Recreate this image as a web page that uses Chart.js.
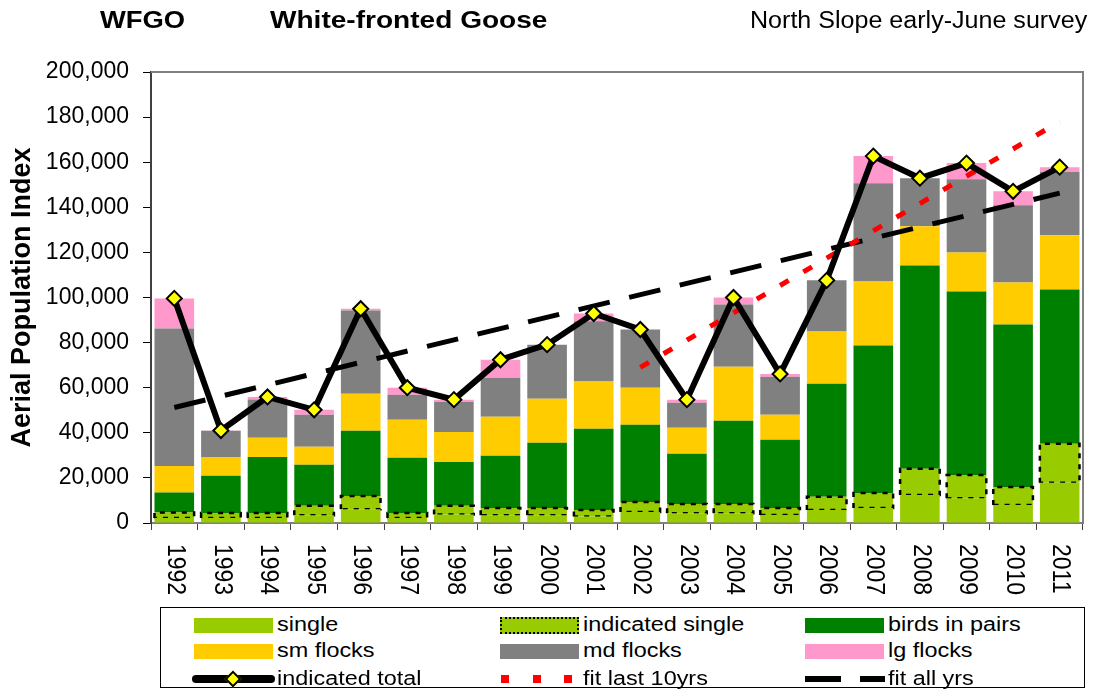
<!DOCTYPE html>
<html>
<head>
<meta charset="utf-8">
<script src="https://cdn.jsdelivr.net/npm/chart.js@4/dist/chart.umd.min.js"></script>
<style>
  html, body { margin: 0; padding: 0; background: #fff; }
  body { width: 1094px; height: 690px; position: relative; overflow: hidden; font-family: "Liberation Sans", Arial, sans-serif; }
  #wrap { position: absolute; left: 0; top: 0; width: 1094px; height: 690px; }
  .ttl { position: absolute; top: 7px; font-size: 23px; line-height: 26px; white-space: nowrap; transform-origin: left center; color: #000; }
  #legend { position: absolute; left: 160px; top: 607px; width: 925px; height: 81px; border: 1px solid #000; box-sizing: border-box; background: #fff; }
  .sw { position: absolute; box-sizing: border-box; }
  .lt { position: absolute; font-size: 20px; line-height: 20px; white-space: nowrap; transform: scaleX(1.17); transform-origin: left center; color: #000; }
</style>
</head>
<body>
<div id="wrap"><canvas id="c" width="1094" height="690"></canvas></div>
<div class="ttl" style="left:100px;font-weight:bold;transform:scaleX(1.19)">WFGO</div>
<div class="ttl" style="left:270px;font-weight:bold;transform:scaleX(1.22)">White-fronted Goose</div>
<div class="ttl" style="left:750px;transform:scaleX(1.09)">North Slope early-June survey</div>
<div id="legend"></div>
<script>
// ---- data ----
const categories = ['1992','1993','1994','1995','1996','1997','1998','1999','2000','2001','2002','2003','2004','2005','2006','2007','2008','2009','2010','2011'];
const single        = [2200,2200,2200,3400,6100,2200,3800,3400,3400,2900,4900,4300,4300,3600,5800,6700,12400,11000,8000,17800];
const indicatedSingle = [2500,2200,2200,4200,5900,2200,3800,3300,3300,2900,4400,4100,4100,3100,5800,6600,11700,10300,8000,17300];
const birdsInPairs  = [8800,16500,24900,18200,28900,24500,19500,23100,28900,36000,34300,22300,36900,30200,50200,65400,90100,81400,72000,68500];
const smFlocks      = [11800,8400,8500,8000,16400,16900,13300,17300,19500,20900,16400,11500,24000,11100,23100,28400,17400,17300,18700,24000];
const mdFlocks      = [60900,11600,17000,14200,36900,11100,13400,17300,24000,26800,25800,11100,27600,16900,22700,43600,21300,32400,34200,28000];
const lgFlocks      = [13400,100,1100,2200,800,3100,900,8000,0,3400,0,1400,3100,1200,0,12000,0,7200,6200,2200];
const indicatedTotal = [99600,41000,55900,50200,95000,60000,54700,72400,79100,92900,85800,54700,100000,66100,107600,162700,152900,159600,147100,157800];
const fitLast10yrs  = [null,null,null,null,null,null,null,null,null,null,69000,null,null,null,null,null,null,null,null,178000];
const fitAllYrs     = [51200,null,null,null,null,null,null,null,null,null,null,null,null,null,null,null,null,null,null,146300];
const yTicks = [0,20000,40000,60000,80000,100000,120000,140000,160000,180000,200000];

const FONT = '"Liberation Sans", Arial, sans-serif';

const barDefaults = { stack: 'bars', order: 3, borderWidth: 0, barPercentage: 0.85, categoryPercentage: 1.0 };

const borderPlugin = {
  id: 'plotBorder',
  beforeDatasetsDraw(chart) {
    const a = chart.chartArea, ctx = chart.ctx;
    ctx.save();
    ctx.strokeStyle = '#808080';
    ctx.lineWidth = 2;
    ctx.beginPath();
    ctx.moveTo(a.left, a.top);
    ctx.lineTo(a.right, a.top);
    ctx.lineTo(a.right, a.bottom);
    ctx.stroke();
    ctx.restore();
  }
};

const dottedPlugin = {
  id: 'dottedIndicated',
  afterDatasetDraw(chart, args) {
    if (args.index !== 1) return;
    const meta = chart.getDatasetMeta(1);
    const ctx = chart.ctx;
    ctx.save();
    ctx.strokeStyle = '#000';
    ctx.lineWidth = 2.5;
    ctx.setLineDash([5, 6]);
    meta.data.forEach(el => {
      const p = el.getProps(['x','y','base','width'], true);
      const l = p.x - p.width / 2, r = p.x + p.width / 2;
      ctx.beginPath();
      ctx.moveTo(l, p.base); ctx.lineTo(l, p.y); ctx.lineTo(r, p.y); ctx.lineTo(r, p.base); ctx.lineTo(l, p.base);
      ctx.stroke();
    });
    ctx.restore();
  }
};

const yearLabelPlugin = {
  id: 'yearLabels',
  afterDraw(chart) {
    const xs = chart.scales.x, ctx = chart.ctx;
    ctx.save();
    ctx.font = '23px ' + FONT;
    ctx.fillStyle = '#000';
    ctx.textAlign = 'left';
    ctx.textBaseline = 'middle';
    categories.forEach((c, i) => {
      const x = xs.getPixelForValue(i);
      ctx.save();
      ctx.translate(x + 1, 544);
      ctx.rotate(Math.PI / 2);
      ctx.scale(1, 1.15);
      ctx.fillText(c, 0, 0);
      ctx.restore();
    });
    ctx.restore();
  }
};

new Chart(document.getElementById('c'), {
  data: {
    labels: categories,
    datasets: [
      Object.assign({ type: 'bar', label: 'single', data: single, backgroundColor: '#99cc00' }, barDefaults),
      Object.assign({ type: 'bar', label: 'indicated single', data: indicatedSingle, backgroundColor: '#99cc00' }, barDefaults),
      Object.assign({ type: 'bar', label: 'birds in pairs', data: birdsInPairs, backgroundColor: '#008000' }, barDefaults),
      Object.assign({ type: 'bar', label: 'sm flocks', data: smFlocks, backgroundColor: '#ffcc00' }, barDefaults),
      Object.assign({ type: 'bar', label: 'md flocks', data: mdFlocks, backgroundColor: '#808080' }, barDefaults),
      Object.assign({ type: 'bar', label: 'lg flocks', data: lgFlocks, backgroundColor: '#ff99cc' }, barDefaults),
      { type: 'line', label: 'fit last 10yrs', data: fitLast10yrs, stack: 'fit10', order: 2, spanGaps: true,
        borderColor: '#ff0000', borderWidth: 5, borderDash: [10, 17], borderCapStyle: 'butt', pointRadius: 0, tension: 0, fill: false },
      { type: 'line', label: 'fit all yrs', data: fitAllYrs, stack: 'fitAll', order: 2, spanGaps: true,
        borderColor: '#000000', borderWidth: 5, borderDash: [32, 20], borderCapStyle: 'butt', pointRadius: 0, tension: 0, fill: false },
      { type: 'line', label: 'indicated total', data: indicatedTotal, stack: 'total', order: 1,
        borderColor: '#000000', borderWidth: 6, tension: 0, fill: false,
        pointStyle: 'rectRot', pointRadius: 7.5, pointBackgroundColor: '#ffff00', pointBorderColor: '#000000', pointBorderWidth: 2 }
    ]
  },
  options: {
    responsive: false,
    animation: false,
    layout: { padding: { top: 72, right: 11, left: 0, bottom: 147 } },
    plugins: { legend: { display: false }, tooltip: { enabled: false }, title: { display: false } },
    scales: {
      x: {
        stacked: true,
        offset: true,
        afterFit: s => { s.height = 20; },
        ticks: { display: false },
        grid: { display: true, drawOnChartArea: false, offset: true, tickLength: 7, color: '#404040', lineWidth: 1 },
        border: { display: true, color: '#808080', width: 2 }
      },
      y: {
        stacked: true,
        min: 0, max: 200000,
        afterFit: s => { s.width = 151; },
        afterBuildTicks: s => { s.ticks = yTicks.map(v => ({ value: v })); },
        ticks: {
          font: { family: FONT, size: 23 }, color: '#000', padding: 14,
          callback: v => Number(v).toLocaleString('en-US')
        },
        grid: { display: true, drawOnChartArea: false, tickLength: 8, color: '#000', lineWidth: 1 },
        border: { display: true, color: '#404040', width: 2 },
        title: { display: true, text: 'Aerial Population Index', font: { family: FONT, size: 27, weight: 'bold' }, color: '#000', padding: { top: 6, bottom: 0 } }
      }
    }
  },
  plugins: [borderPlugin, dottedPlugin, yearLabelPlugin]
});

// ---- HTML legend ----
const legendItems = [
  { text: 'single', col: 0, row: 0, kind: 'box', color: '#99cc00' },
  { text: 'indicated single', col: 1, row: 0, kind: 'dotted', color: '#99cc00' },
  { text: 'birds in pairs', col: 2, row: 0, kind: 'box', color: '#008000' },
  { text: 'sm flocks', col: 0, row: 1, kind: 'box', color: '#ffcc00' },
  { text: 'md flocks', col: 1, row: 1, kind: 'box', color: '#808080' },
  { text: 'lg flocks', col: 2, row: 1, kind: 'box', color: '#ff99cc' },
  { text: 'indicated total', col: 0, row: 2, kind: 'total' },
  { text: 'fit last 10yrs', col: 1, row: 2, kind: 'reddots' },
  { text: 'fit all yrs', col: 2, row: 2, kind: 'blackdash' }
];
const legend = document.getElementById('legend');
const colSw = [33, 339, 644];   // relative to legend box left (160)
const rowMid = [17, 43, 71];    // relative to legend box top (607)
function add(html) { legend.insertAdjacentHTML('beforeend', html); }
legendItems.forEach(it => {
  const x = colSw[it.col], y = rowMid[it.row];
  if (it.kind === 'box') {
    add(`<div class="sw" style="left:${x}px;top:${y-7}px;width:79px;height:15px;background:${it.color}"></div>`);
  } else if (it.kind === 'dotted') {
    add(`<div class="sw" style="left:${x}px;top:${y-8}px;width:79px;height:17px;background:${it.color};border:2px dotted #000"></div>`);
  } else if (it.kind === 'total') {
    add(`<div class="sw" style="left:${x-2}px;top:${y-4}px;width:83px;height:8px;background:#000;border-radius:4px"></div>`);
    add(`<div class="sw" style="left:${x+33}px;top:${y-6}px;width:12px;height:12px;background:#ffff00;border:2px solid #000;transform:rotate(45deg)"></div>`);
  } else if (it.kind === 'reddots') {
    [1, 33, 64].forEach(dx => add(`<div class="sw" style="left:${x+dx}px;top:${y-4}px;width:8px;height:8px;background:#ff0000"></div>`));
  } else if (it.kind === 'blackdash') {
    add(`<div class="sw" style="left:${x}px;top:${y-3}px;width:36px;height:6px;background:#000"></div>`);
    add(`<div class="sw" style="left:${x+55}px;top:${y-3}px;width:25px;height:6px;background:#000"></div>`);
  }
  add(`<div class="lt" style="left:${x+83}px;top:${y-11}px">${it.text}</div>`);
});
</script>
</body>
</html>
